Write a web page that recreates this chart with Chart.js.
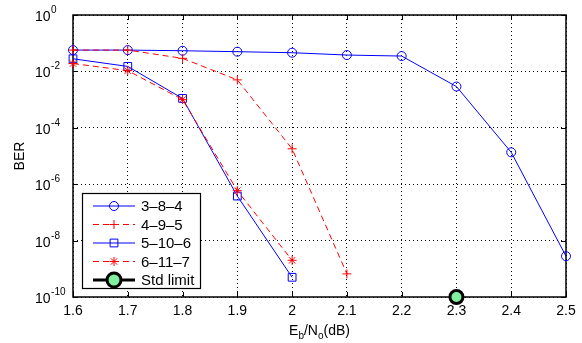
<!DOCTYPE html>
<html>
<head>
<meta charset="utf-8">
<script src="https://cdn.jsdelivr.net/npm/chart.js@4.4.1/dist/chart.umd.min.js"></script>
<style>
  html, body { margin: 0; padding: 0; background: #fff; }
  #wrap { width: 582px; height: 343px; }
</style>
</head>
<body>
<div id="wrap"><canvas id="ber" width="582" height="343"></canvas></div>
<script>
// Eb/No points (dB)
const ebno = [1.6, 1.7, 1.8, 1.9, 2.0, 2.1, 2.2, 2.3, 2.4, 2.5];
// BER curves
const ber384 = [0.057, 0.057, 0.054, 0.05, 0.046, 0.038, 0.035, 2.9e-3, 1.35e-5, 2.8e-9];
const ber495 = [0.057, 0.057, 0.029, 5e-3, 1.8e-5, 6.6e-10];
const ber5106 = [0.028, 0.015, 1.1e-3, 3.8e-7, 5e-10];
const ber6117 = [0.019, 0.0106, 1.0e-3, 5.9e-7, 2e-9];
const stdLimitX = [2.3];
const stdLimitY = [1e-10];

const xTicks = [1.6, 1.7, 1.8, 1.9, 2.0, 2.1, 2.2, 2.3, 2.4, 2.5];
const yExps = [0, -2, -4, -6, -8, -10];

const FONT = '"Liberation Sans", Arial, Helvetica, sans-serif';
const BLUE = '#0000ff';
const RED = '#ff0000';
const GREEN = '#80f0a0';

const pts = (xs, ys) => ys.map((y, i) => ({ x: xs[i], y: y }));

const series = [
    { label: '3–8–4', data: pts(ebno, ber384), color: BLUE, dash: [], marker: 'circle', r: 4.5, order: 5 },
    { label: '4–9–5', data: pts(ebno, ber495), color: RED, dash: [6, 4], marker: 'cross', r: 4.5, order: 4 },
    { label: '5–10–6', data: pts(ebno, ber5106), color: BLUE, dash: [], marker: 'rect', r: 5.5, order: 3 },
    { label: '6–11–7', data: pts(ebno, ber6117), color: RED, dash: [6, 4], marker: 'star', r: 4.5, order: 2 }
];

function drawMarker(ctx, style, x, y, r, stroke, fill, lw) {
    ctx.save();
    ctx.strokeStyle = stroke;
    ctx.lineWidth = lw;
    ctx.setLineDash([]);
    ctx.beginPath();
    if (style === 'circle') {
        ctx.arc(x, y, r, 0, Math.PI * 2);
        if (fill) { ctx.fillStyle = fill; ctx.fill(); }
    } else if (style === 'rect') {
        const s = r * Math.SQRT1_2;
        ctx.rect(x - s, y - s, 2 * s, 2 * s);
    } else if (style === 'cross') {
        ctx.moveTo(x - r, y); ctx.lineTo(x + r, y);
        ctx.moveTo(x, y - r); ctx.lineTo(x, y + r);
    } else if (style === 'star') {
        ctx.moveTo(x - r, y); ctx.lineTo(x + r, y);
        ctx.moveTo(x, y - r); ctx.lineTo(x, y + r);
        const d = r * Math.SQRT1_2;
        ctx.moveTo(x - d, y - d); ctx.lineTo(x + d, y + d);
        ctx.moveTo(x - d, y + d); ctx.lineTo(x + d, y - d);
    }
    ctx.stroke();
    ctx.restore();
}

const matlabLook = {
    id: 'matlabLook',
    beforeDatasetsDraw(chart) {
        const { ctx, chartArea: a, scales } = chart;
        ctx.save();
        ctx.strokeStyle = '#000';
        ctx.lineWidth = 1.5;
        ctx.strokeRect(a.left, a.top, a.right - a.left, a.bottom - a.top);
        ctx.lineWidth = 1;
        ctx.beginPath();
        xTicks.forEach(v => {
            const x = Math.round(scales.x.getPixelForValue(v)) + 0.5;
            ctx.moveTo(x, a.bottom); ctx.lineTo(x, a.bottom - 5);
            ctx.moveTo(x, a.top); ctx.lineTo(x, a.top + 5);
        });
        yExps.forEach(e => {
            const y = Math.round(scales.y.getPixelForValue(Math.pow(10, e))) + 0.5;
            ctx.moveTo(a.left, y); ctx.lineTo(a.left + 5, y);
            ctx.moveTo(a.right, y); ctx.lineTo(a.right - 5, y);
        });
        ctx.stroke();
        ctx.restore();
    },
    afterDraw(chart) {
        const { ctx, chartArea: a, scales } = chart;
        ctx.save();
        ctx.fillStyle = '#000';

        // y tick labels 10^n
        yExps.forEach(e => {
            const y = scales.y.getPixelForValue(Math.pow(10, e));
            ctx.font = '14px ' + FONT;
            ctx.textAlign = 'left';
            ctx.textBaseline = 'alphabetic';
            ctx.fillText('10', 35, y + 6);
            const w = ctx.measureText('10').width;
            ctx.font = '10px ' + FONT;
            ctx.fillText(e === 0 ? '0' : '-' + Math.abs(e), 35 + w + 0.5, y - 2);
        });

        // y title
        ctx.save();
        ctx.translate(20, (a.top + a.bottom) / 2);
        ctx.rotate(-Math.PI / 2);
        ctx.font = '14px ' + FONT;
        ctx.textAlign = 'center';
        ctx.textBaseline = 'middle';
        ctx.fillText('BER', 0, 0);
        ctx.restore();

        // x title with subscripts
        const parts = [['E', 14, 0], ['b', 10, 4], ['/N', 14, 0], ['o', 10, 4], ['(dB)', 14, 0]];
        let total = 0;
        parts.forEach(p => { ctx.font = p[1] + 'px ' + FONT; total += ctx.measureText(p[0]).width; });
        let x = (a.left + a.right) / 2 - total / 2;
        ctx.textAlign = 'left';
        ctx.textBaseline = 'alphabetic';
        parts.forEach(p => {
            ctx.font = p[1] + 'px ' + FONT;
            ctx.fillText(p[0], x, 335 + p[2]);
            x += ctx.measureText(p[0]).width;
        });

        // legend box
        const lx = 82.5, ly = 193.5, lw = 118, lh = 95;
        ctx.fillStyle = '#fff';
        ctx.fillRect(lx, ly, lw, lh);
        ctx.strokeStyle = '#000';
        ctx.lineWidth = 1.2;
        ctx.strokeRect(lx, ly, lw, lh);
        const rows = series.concat([{ label: 'Std limit', color: '#000', dash: [], marker: 'circle', r: 7, fill: GREEN, lw: 3 }]);
        rows.forEach((s, i) => {
            const y = 206 + i * 18.5;
            ctx.save();
            ctx.strokeStyle = s.color;
            ctx.lineWidth = s.lw || 1;
            ctx.setLineDash(s.dash);
            ctx.beginPath();
            ctx.moveTo(93, y); ctx.lineTo(135, y);
            ctx.stroke();
            ctx.restore();
            drawMarker(ctx, s.marker, 114, y, s.r, s.color, s.fill, s.lw || 1);
            ctx.fillStyle = '#000';
            ctx.font = '15px ' + FONT;
            ctx.textAlign = 'left';
            ctx.textBaseline = 'middle';
            ctx.fillText(s.label, 141, y + 1);
        });
        ctx.restore();
    }
};

const datasets = series.map(s => ({
    label: s.label,
    data: s.data,
    borderColor: s.color,
    backgroundColor: 'rgba(0,0,0,0)',
    borderWidth: 1,
    borderDash: s.dash,
    pointStyle: s.marker,
    pointRadius: s.r,
    pointBorderColor: s.color,
    pointBackgroundColor: 'rgba(0,0,0,0)',
    pointBorderWidth: 1,
    tension: 0,
    clip: false,
    order: s.order
}));

datasets.push({
    label: 'Std limit',
    data: pts(stdLimitX, stdLimitY),
    showLine: false,
    pointStyle: 'circle',
    pointRadius: 6.5,
    pointBorderWidth: 3,
    pointBorderColor: '#000',
    pointBackgroundColor: GREEN,
    clip: false,
    order: 1
});

new Chart(document.getElementById('ber').getContext('2d'), {
    type: 'line',
    data: { datasets: datasets },
    plugins: [matlabLook],
    options: {
        responsive: false,
        animation: false,
        layout: { padding: { top: 15, right: 16, left: 0, bottom: 0 } },
        plugins: { legend: { display: false }, tooltip: { enabled: false } },
        scales: {
            x: {
                type: 'linear',
                min: 1.6,
                max: 2.5,
                afterBuildTicks: s => { s.ticks = xTicks.map(v => ({ value: v })); },
                afterFit: s => { s.height = 46; },
                ticks: {
                    color: '#000',
                    padding: 6,
                    font: { family: FONT, size: 14 },
                    callback: v => String(Math.round(v * 10) / 10)
                },
                grid: { color: '#000', lineWidth: 1, drawTicks: false },
                border: { display: false, dash: [1, 3] }
            },
            y: {
                type: 'logarithmic',
                min: 1e-10,
                max: 1,
                afterBuildTicks: s => { s.ticks = yExps.map(e => ({ value: Math.pow(10, e) })); },
                afterFit: s => { s.width = 73; },
                ticks: { callback: () => '' },
                grid: { color: '#000', lineWidth: 1, drawTicks: false },
                border: { display: false, dash: [1, 3] }
            }
        }
    }
});
</script>
</body>
</html>
